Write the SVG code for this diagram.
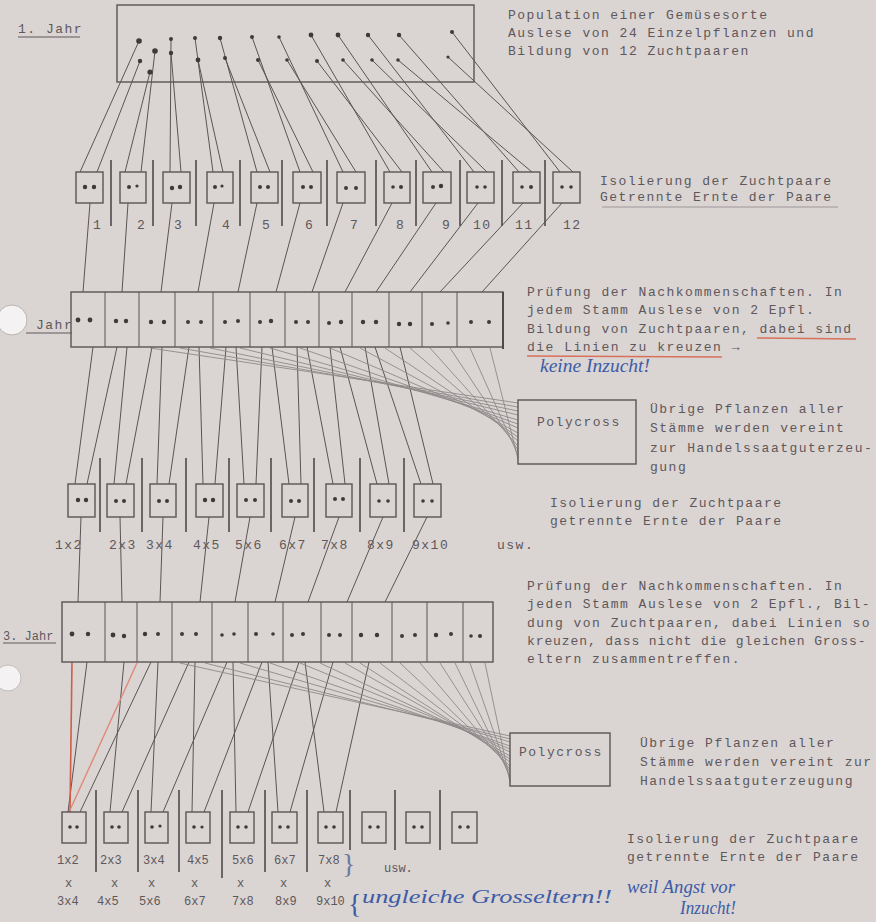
<svg xmlns="http://www.w3.org/2000/svg" width="876" height="922" viewBox="0 0 876 922">
<style>
.t{font-family:"Liberation Mono","DejaVu Sans Mono",monospace;font-size:13px;fill:#5e585a;letter-spacing:1.5px}
.s{font-family:"Liberation Mono","DejaVu Sans Mono",monospace;font-size:12px;fill:#5e585a}
.hw{font-family:"Liberation Serif","DejaVu Serif",serif;font-style:italic;font-size:18px;fill:#3d5ca6}
.bx{fill:none;stroke:#5a5456;stroke-width:1.4}
.ln{stroke:#5a5456;stroke-width:1;fill:none}
.fl{stroke:#8f898a;stroke-width:0.9;fill:none}
.bar{stroke:#4e494b;stroke-width:1.6}
.d{fill:#3e3a3b}
.ul{stroke:#5e585a;stroke-width:1.2}
</style>
<rect width="876" height="922" fill="#dad4d3"/>

<!-- punch holes -->
<g id="holes">
<ellipse cx="12" cy="320" rx="15" ry="15" fill="#f4f2f2" stroke="#b9b3b3" stroke-width="1"/>
<ellipse cx="8" cy="678" rx="13" ry="13" fill="#f4f2f2" stroke="#c3bdbd" stroke-width="1"/>
</g>

<!-- labels years -->
<g id="label-jahr1"><text class="t" x="18" y="33">1. Jahr</text><line class="ul" x1="18" y1="37" x2="80" y2="37"/></g>
<g id="label-jahr2"><text class="t" x="36" y="329">Jahr</text><line class="ul" x1="26" y1="333" x2="72" y2="333"/></g>
<g id="label-jahr3"><text class="s" x="3" y="640">3. Jahr</text><line class="ul" x1="3" y1="643" x2="56" y2="643"/></g>

<!-- connectors -->
<g id="connectors">
<!-- population dots -> pair boxes -->
<g class="ln">
<line x1="139" y1="41" x2="80" y2="172"/><line x1="140" y1="61" x2="97" y2="172"/>
<line x1="150" y1="72" x2="125" y2="172"/><line x1="155" y1="51" x2="141" y2="172"/>
<line x1="171" y1="39" x2="170" y2="172"/><line x1="171" y1="53" x2="181" y2="172"/>
<line x1="195" y1="38" x2="213" y2="172"/><line x1="198" y1="60" x2="223" y2="172"/>
<line x1="220" y1="38" x2="257" y2="172"/><line x1="225" y1="58" x2="270" y2="172"/>
<line x1="252" y1="37" x2="300" y2="172"/><line x1="258" y1="60" x2="313" y2="172"/>
<line x1="279" y1="37" x2="343" y2="172"/><line x1="287" y1="60" x2="356" y2="172"/>
<line x1="311" y1="35" x2="390" y2="172"/><line x1="317" y1="61" x2="402" y2="172"/>
<line x1="338" y1="35" x2="432" y2="172"/><line x1="343" y1="60" x2="444" y2="172"/>
<line x1="368" y1="35" x2="474" y2="172"/><line x1="372" y1="60" x2="487" y2="172"/>
<line x1="399" y1="35" x2="519" y2="172"/><line x1="398" y1="60" x2="532" y2="172"/>
<line x1="452" y1="32" x2="560" y2="172"/><line x1="448" y1="57" x2="573" y2="172"/>
</g>
<!-- pair boxes -> 2. Jahr row -->
<g class="ln">
<line x1="90" y1="203" x2="83" y2="292"/><line x1="128" y1="203" x2="122" y2="292"/>
<line x1="172" y1="203" x2="161" y2="292"/><line x1="214" y1="203" x2="198" y2="292"/>
<line x1="257" y1="203" x2="238" y2="292"/><line x1="300" y1="203" x2="276" y2="292"/>
<line x1="343" y1="203" x2="312" y2="292"/><line x1="392" y1="203" x2="345" y2="292"/>
<line x1="436" y1="203" x2="376" y2="292"/><line x1="478" y1="203" x2="410" y2="292"/>
<line x1="523" y1="203" x2="440" y2="292"/><line x1="562" y1="203" x2="482" y2="292"/>
</g>
<!-- 2. Jahr -> crossing pairs -->
<g class="ln">
<line x1="93" y1="347" x2="75" y2="484"/><line x1="117" y1="347" x2="87" y2="484"/>
<line x1="127" y1="347" x2="114" y2="484"/><line x1="152" y1="347" x2="126" y2="484"/>
<line x1="162" y1="347" x2="157" y2="484"/><line x1="189" y1="347" x2="169" y2="484"/>
<line x1="199" y1="347" x2="203" y2="484"/><line x1="226" y1="347" x2="215" y2="484"/>
<line x1="236" y1="347" x2="244" y2="484"/><line x1="262" y1="347" x2="256" y2="484"/>
<line x1="272" y1="347" x2="289" y2="484"/><line x1="297" y1="347" x2="301" y2="484"/>
<line x1="307" y1="347" x2="333" y2="484"/><line x1="330" y1="347" x2="345" y2="484"/>
<line x1="340" y1="347" x2="377" y2="484"/><line x1="365" y1="347" x2="389" y2="484"/>
<line x1="375" y1="347" x2="421" y2="484"/><line x1="400" y1="347" x2="433" y2="484"/>
</g>
<!-- 2. Jahr -> Polycross -->
<g class="fl">
<line x1="150" y1="348" x2="518" y2="403"/><line x1="180" y1="348" x2="518" y2="407"/>
<line x1="210" y1="348" x2="518" y2="411"/><line x1="240" y1="348" x2="518" y2="415"/>
<line x1="270" y1="348" x2="518" y2="420"/><line x1="300" y1="348" x2="518" y2="424"/>
<line x1="330" y1="348" x2="518" y2="428"/><line x1="360" y1="348" x2="518" y2="433"/>
<line x1="385" y1="348" x2="518" y2="437"/><line x1="410" y1="348" x2="518" y2="441"/>
<line x1="430" y1="348" x2="518" y2="446"/><line x1="450" y1="348" x2="518" y2="450"/>
<line x1="470" y1="348" x2="518" y2="455"/><line x1="490" y1="348" x2="518" y2="459"/>
</g>
<!-- pairs -> 3. Jahr row -->
<g class="ln">
<line x1="81" y1="517" x2="78" y2="602"/><line x1="120" y1="517" x2="122" y2="602"/>
<line x1="163" y1="517" x2="160" y2="602"/><line x1="209" y1="517" x2="200" y2="602"/>
<line x1="250" y1="517" x2="235" y2="602"/><line x1="295" y1="517" x2="275" y2="602"/>
<line x1="339" y1="517" x2="308" y2="602"/><line x1="383" y1="517" x2="347" y2="602"/>
<line x1="427" y1="517" x2="385" y2="602"/>
</g>
<!-- 3. Jahr -> crossing pairs -->
<g class="ln">
<line x1="87" y1="662" x2="68" y2="812"/><line x1="151" y1="662" x2="80" y2="812"/>
<line x1="124" y1="662" x2="110" y2="812"/><line x1="189" y1="662" x2="122" y2="812"/>
<line x1="158" y1="662" x2="151" y2="812"/><line x1="227" y1="662" x2="163" y2="812"/>
<line x1="195" y1="662" x2="192" y2="812"/><line x1="262" y1="662" x2="204" y2="812"/>
<line x1="233" y1="662" x2="236" y2="812"/><line x1="299" y1="662" x2="248" y2="812"/>
<line x1="268" y1="662" x2="278" y2="812"/><line x1="333" y1="662" x2="290" y2="812"/>
<line x1="305" y1="662" x2="324" y2="812"/><line x1="369" y1="662" x2="336" y2="812"/>
</g>
<!-- 3. Jahr -> Polycross -->
<g class="fl">
<line x1="180" y1="663" x2="510" y2="736"/><line x1="205" y1="663" x2="510" y2="739"/>
<line x1="240" y1="663" x2="510" y2="742"/><line x1="270" y1="663" x2="510" y2="746"/>
<line x1="300" y1="663" x2="510" y2="749"/><line x1="320" y1="663" x2="510" y2="752"/>
<line x1="345" y1="663" x2="510" y2="756"/><line x1="360" y1="663" x2="510" y2="759"/>
<line x1="380" y1="663" x2="510" y2="762"/><line x1="400" y1="663" x2="510" y2="766"/>
<line x1="420" y1="663" x2="510" y2="769"/><line x1="440" y1="663" x2="510" y2="772"/>
<line x1="455" y1="663" x2="510" y2="776"/><line x1="470" y1="663" x2="510" y2="779"/>
<line x1="485" y1="663" x2="510" y2="782"/>
</g>
<!-- red marks -->
<line x1="72" y1="662" x2="70" y2="812" stroke="#cf5d48" stroke-width="1.6"/>
<line x1="70" y1="810" x2="137" y2="663" stroke="#e08a78" stroke-width="1.4"/>
<!-- separator bars -->
<g class="bar">
<line x1="111" y1="160" x2="111" y2="226"/><line x1="153" y1="160" x2="153" y2="226"/>
<line x1="196" y1="160" x2="196" y2="226"/><line x1="240" y1="160" x2="240" y2="226"/>
<line x1="282" y1="160" x2="282" y2="226"/><line x1="327" y1="160" x2="327" y2="226"/>
<line x1="376" y1="160" x2="376" y2="226"/><line x1="416" y1="160" x2="416" y2="226"/>
<line x1="460" y1="160" x2="460" y2="226"/><line x1="502" y1="160" x2="502" y2="226"/>
<line x1="545" y1="160" x2="545" y2="226"/>
<line x1="100" y1="458" x2="100" y2="532"/><line x1="142" y1="458" x2="142" y2="532"/>
<line x1="186" y1="458" x2="186" y2="532"/><line x1="229" y1="458" x2="229" y2="532"/>
<line x1="271" y1="458" x2="271" y2="532"/><line x1="314" y1="458" x2="314" y2="532"/>
<line x1="360" y1="458" x2="360" y2="532"/><line x1="404" y1="458" x2="404" y2="532"/>
<line x1="96" y1="790" x2="96" y2="872"/><line x1="138" y1="790" x2="138" y2="872"/>
<line x1="179" y1="790" x2="179" y2="872"/><line x1="222" y1="790" x2="222" y2="878"/>
<line x1="265" y1="790" x2="265" y2="872"/><line x1="307" y1="790" x2="307" y2="872"/>
<line x1="350" y1="790" x2="350" y2="850"/><line x1="395" y1="790" x2="395" y2="850"/>
<line x1="440" y1="790" x2="440" y2="850"/>
</g>
</g>

<!-- population box -->
<g id="population">
<rect class="bx" x="117" y="5" width="357" height="77"/>
<g class="d">
<circle cx="139" cy="41" r="2.8"/><circle cx="155" cy="51" r="2.8"/><circle cx="171" cy="39" r="2"/><circle cx="171" cy="53" r="2.2"/>
<circle cx="195" cy="38" r="2"/><circle cx="220" cy="38" r="2.2"/><circle cx="252" cy="37" r="2"/><circle cx="279" cy="37" r="1.8"/>
<circle cx="311" cy="35" r="2.4"/><circle cx="338" cy="35" r="2.4"/><circle cx="368" cy="35" r="2.2"/><circle cx="399" cy="35" r="2.2"/><circle cx="452" cy="32" r="2"/>
<circle cx="140" cy="61" r="2.2"/><circle cx="150" cy="72" r="2.6"/><circle cx="198" cy="60" r="2.4"/><circle cx="225" cy="58" r="2"/>
<circle cx="258" cy="60" r="2"/><circle cx="287" cy="60" r="1.8"/><circle cx="317" cy="61" r="2"/><circle cx="343" cy="60" r="1.8"/>
<circle cx="372" cy="60" r="1.8"/><circle cx="398" cy="60" r="1.8"/><circle cx="448" cy="57" r="1.6"/>
</g>
</g>
<g id="text-population">
<text class="t" x="508" y="19">Population einer Gemüsesorte</text>
<text class="t" x="508" y="37">Auslese von 24 Einzelpflanzen und</text>
<text class="t" x="508" y="55">Bildung von 12 Zuchtpaaren</text>
</g>

<!-- 1st year pair boxes -->
<g id="pairs-1">
<g id="p1-1"><rect class="bx" x="76" y="172" width="27" height="31"/><circle class="d" cx="85" cy="187" r="2.2"/><circle class="d" cx="94" cy="187" r="2.2"/><text class="t" x="93" y="229">1</text></g>
<g id="p1-2"><rect class="bx" x="120" y="172" width="26" height="31"/><circle class="d" cx="129" cy="187" r="2"/><circle class="d" cx="137" cy="186" r="1.6"/><text class="t" x="137" y="229">2</text></g>
<g id="p1-3"><rect class="bx" x="163" y="172" width="27" height="31"/><circle class="d" cx="172" cy="188" r="2.2"/><circle class="d" cx="180" cy="187" r="2.2"/><text class="t" x="174" y="229">3</text></g>
<g id="p1-4"><rect class="bx" x="207" y="172" width="26" height="31"/><circle class="d" cx="215" cy="187" r="2"/><circle class="d" cx="222" cy="186" r="1.6"/><text class="t" x="222" y="229">4</text></g>
<g id="p1-5"><rect class="bx" x="251" y="172" width="27" height="31"/><circle class="d" cx="260" cy="187" r="2"/><circle class="d" cx="268" cy="187" r="2"/><text class="t" x="262" y="229">5</text></g>
<g id="p1-6"><rect class="bx" x="293" y="172" width="28" height="31"/><circle class="d" cx="303" cy="187" r="2"/><circle class="d" cx="311" cy="187" r="2"/><text class="t" x="305" y="229">6</text></g>
<g id="p1-7"><rect class="bx" x="337" y="172" width="28" height="31"/><circle class="d" cx="346" cy="188" r="2"/><circle class="d" cx="356" cy="188" r="2"/><text class="t" x="350" y="229">7</text></g>
<g id="p1-8"><rect class="bx" x="384" y="172" width="26" height="31"/><circle class="d" cx="393" cy="187" r="1.8"/><circle class="d" cx="401" cy="187" r="2"/><text class="t" x="396" y="229">8</text></g>
<g id="p1-9"><rect class="bx" x="423" y="172" width="28" height="31"/><circle class="d" cx="433" cy="187" r="2"/><circle class="d" cx="441" cy="186" r="2.2"/><text class="t" x="442" y="229">9</text></g>
<g id="p1-10"><rect class="bx" x="467" y="172" width="27" height="31"/><circle class="d" cx="477" cy="187" r="1.8"/><circle class="d" cx="485" cy="187" r="1.8"/><text class="t" x="473" y="229">10</text></g>
<g id="p1-11"><rect class="bx" x="513" y="172" width="27" height="31"/><circle class="d" cx="522" cy="187" r="1.8"/><circle class="d" cx="531" cy="187" r="2"/><text class="t" x="515" y="229">11</text></g>
<g id="p1-12"><rect class="bx" x="553" y="172" width="27" height="31"/><circle class="d" cx="562" cy="187" r="1.8"/><circle class="d" cx="571" cy="187" r="1.8"/><text class="t" x="563" y="229">12</text></g>
</g>
<g id="text-iso1">
<text class="t" x="600" y="185">Isolierung der Zuchtpaare</text>
<text class="t" x="600" y="201">Getrennte Ernte der Paare</text>
<line x1="602" y1="207" x2="838" y2="207" stroke="#8f898a" stroke-width="0.8"/>
</g>

<!-- 2. Jahr row -->
<g id="row-jahr2">
<rect class="bx" x="71" y="292" width="432" height="55"/>
<line x1="503" y1="292" x2="503" y2="349" stroke="#4e494b" stroke-width="2"/>
<g class="ln">
<line x1="105" y1="292" x2="105" y2="347"/><line x1="139" y1="292" x2="139" y2="347"/><line x1="175" y1="292" x2="175" y2="347"/>
<line x1="213" y1="292" x2="213" y2="347"/><line x1="250" y1="292" x2="250" y2="347"/><line x1="285" y1="292" x2="285" y2="347"/>
<line x1="319" y1="292" x2="319" y2="347"/><line x1="352" y1="292" x2="352" y2="347"/><line x1="389" y1="292" x2="389" y2="347"/>
<line x1="422" y1="292" x2="422" y2="347"/><line x1="457" y1="292" x2="457" y2="347"/>
</g>
<g class="d">
<circle cx="78" cy="320" r="2.4"/><circle cx="90" cy="320" r="2.4"/><circle cx="116" cy="321" r="2.2"/><circle cx="126" cy="321" r="2.2"/>
<circle cx="151" cy="322" r="2.2"/><circle cx="164" cy="322" r="2.2"/><circle cx="188" cy="322" r="2"/><circle cx="201" cy="322" r="2"/>
<circle cx="225" cy="322" r="2"/><circle cx="238" cy="321" r="2"/><circle cx="260" cy="322" r="2"/><circle cx="271" cy="321" r="2.2"/>
<circle cx="296" cy="322" r="2"/><circle cx="308" cy="322" r="2"/><circle cx="329" cy="323" r="2"/><circle cx="341" cy="322" r="2.2"/>
<circle cx="363" cy="322" r="2.2"/><circle cx="376" cy="322" r="2.2"/><circle cx="399" cy="324" r="2.2"/><circle cx="410" cy="324" r="2.2"/>
<circle cx="432" cy="324" r="2"/><circle cx="448" cy="323" r="1.8"/><circle cx="471" cy="322" r="2"/><circle cx="489" cy="322" r="2"/>
</g>
</g>
<g id="text-pruefung1">
<text class="t" x="527" y="296">Prüfung der Nachkommenschaften. In</text>
<text class="t" x="527" y="314">jedem Stamm Auslese von 2 Epfl.</text>
<text class="t" x="527" y="333">Bildung von Zuchtpaaren, dabei sind</text>
<text class="t" x="527" y="351">die Linien zu kreuzen →</text>
<line x1="757" y1="338" x2="856" y2="339" stroke="#d8705c" stroke-width="1.4"/>
<line x1="527" y1="356" x2="722" y2="357" stroke="#d8705c" stroke-width="1.4"/>
<text class="hw" x="540" y="372" font-size="15" textLength="110" lengthAdjust="spacingAndGlyphs">keine Inzucht!</text>
</g>

<!-- Polycross 1 -->
<g id="polycross-1">
<rect class="bx" x="518" y="400" width="118" height="64"/>
<text class="t" x="537" y="426">Polycross</text>
</g>
<g id="text-poly1">
<text class="t" x="650" y="413">Übrige Pflanzen aller</text>
<text class="t" x="650" y="432">Stämme werden vereint</text>
<text class="t" x="650" y="452">zur Handelssaatguterzeu-</text>
<text class="t" x="650" y="471">gung</text>
</g>

<!-- 2nd year crossing pairs -->
<g id="pairs-2">
<g id="p2-1"><rect class="bx" x="68" y="484" width="27" height="33"/><circle class="d" cx="78" cy="500" r="2.2"/><circle class="d" cx="86" cy="500" r="2.2"/><text class="t" x="55" y="549">1x2</text></g>
<g id="p2-2"><rect class="bx" x="107" y="484" width="27" height="33"/><circle class="d" cx="116" cy="501" r="2"/><circle class="d" cx="124" cy="501" r="2"/><text class="t" x="109" y="549">2x3</text></g>
<g id="p2-3"><rect class="bx" x="150" y="484" width="26" height="33"/><circle class="d" cx="159" cy="501" r="2"/><circle class="d" cx="167" cy="501" r="2"/><text class="t" x="146" y="549">3x4</text></g>
<g id="p2-4"><rect class="bx" x="196" y="484" width="27" height="33"/><circle class="d" cx="205" cy="500" r="2.2"/><circle class="d" cx="213" cy="500" r="2.2"/><text class="t" x="193" y="549">4x5</text></g>
<g id="p2-5"><rect class="bx" x="237" y="484" width="27" height="33"/><circle class="d" cx="246" cy="500" r="2"/><circle class="d" cx="255" cy="500" r="2"/><text class="t" x="235" y="549">5x6</text></g>
<g id="p2-6"><rect class="bx" x="282" y="484" width="26" height="33"/><circle class="d" cx="291" cy="501" r="2"/><circle class="d" cx="299" cy="501" r="2"/><text class="t" x="279" y="549">6x7</text></g>
<g id="p2-7"><rect class="bx" x="326" y="484" width="26" height="33"/><circle class="d" cx="335" cy="499" r="2"/><circle class="d" cx="343" cy="499" r="2"/><text class="t" x="321" y="549">7x8</text></g>
<g id="p2-8"><rect class="bx" x="370" y="484" width="26" height="33"/><circle class="d" cx="379" cy="501" r="1.8"/><circle class="d" cx="388" cy="501" r="1.8"/><text class="t" x="367" y="549">8x9</text></g>
<g id="p2-9"><rect class="bx" x="414" y="484" width="27" height="33"/><circle class="d" cx="423" cy="501" r="1.8"/><circle class="d" cx="432" cy="501" r="1.8"/><text class="t" x="412" y="549">9x10</text></g>
<text class="t" x="497" y="549">usw.</text>
</g>
<g id="text-iso2">
<text class="t" x="550" y="507">Isolierung der Zuchtpaare</text>
<text class="t" x="550" y="525">getrennte Ernte der Paare</text>
</g>

<!-- 3. Jahr row -->
<g id="row-jahr3">
<rect class="bx" x="62" y="602" width="431" height="60"/>
<g class="ln">
<line x1="105" y1="602" x2="105" y2="662"/><line x1="137" y1="602" x2="137" y2="662"/><line x1="172" y1="602" x2="172" y2="662"/>
<line x1="212" y1="602" x2="212" y2="662"/><line x1="248" y1="602" x2="248" y2="662"/><line x1="283" y1="602" x2="283" y2="662"/>
<line x1="321" y1="602" x2="321" y2="662"/><line x1="352" y1="602" x2="352" y2="662"/><line x1="392" y1="602" x2="392" y2="662"/>
<line x1="427" y1="602" x2="427" y2="662"/><line x1="463" y1="602" x2="463" y2="662"/>
</g>
<g class="d">
<circle cx="72" cy="634" r="2.4"/><circle cx="88" cy="634" r="2.2"/><circle cx="113" cy="635" r="2.4"/><circle cx="124" cy="636" r="2.2"/>
<circle cx="145" cy="634" r="2.2"/><circle cx="158" cy="634" r="2"/><circle cx="182" cy="634" r="2"/><circle cx="196" cy="634" r="2"/>
<circle cx="222" cy="635" r="1.8"/><circle cx="234" cy="634" r="1.8"/><circle cx="256" cy="634" r="2"/><circle cx="273" cy="634" r="1.8"/>
<circle cx="292" cy="635" r="2"/><circle cx="303" cy="634" r="2"/><circle cx="329" cy="635" r="2"/><circle cx="340" cy="635" r="2"/>
<circle cx="361" cy="635" r="2.2"/><circle cx="377" cy="635" r="2.2"/><circle cx="402" cy="636" r="2"/><circle cx="415" cy="635" r="2"/>
<circle cx="436" cy="635" r="2.2"/><circle cx="451" cy="634" r="2"/><circle cx="471" cy="636" r="1.8"/><circle cx="480" cy="636" r="2"/>
</g>
</g>
<g id="text-pruefung2">
<text class="t" x="527" y="590">Prüfung der Nachkommenschaften. In</text>
<text class="t" x="527" y="608">jeden Stamm Auslese von 2 Epfl., Bil-</text>
<text class="t" x="527" y="627">dung von Zuchtpaaren, dabei Linien so</text>
<text class="t" x="527" y="645" style="letter-spacing:0.9px">kreuzen, dass nicht die gleichen Gross-</text>
<text class="t" x="527" y="663">eltern zusammentreffen.</text>
</g>

<!-- Polycross 2 -->
<g id="polycross-2">
<rect class="bx" x="510" y="733" width="100" height="53"/>
<text class="t" x="519" y="756">Polycross</text>
</g>
<g id="text-poly2">
<text class="t" x="640" y="747">Übrige Pflanzen aller</text>
<text class="t" x="640" y="766">Stämme werden vereint zur</text>
<text class="t" x="640" y="785">Handelssaatguterzeugung</text>
</g>

<!-- 3rd year crossing pairs -->
<g id="pairs-3">
<g id="p3-1"><rect class="bx" x="62" y="812" width="24" height="31"/><circle class="d" cx="70" cy="827" r="1.8"/><circle class="d" cx="77" cy="827" r="1.8"/><text class="s" x="57" y="864">1x2</text><text class="s" x="65" y="887">x</text><text class="s" x="57" y="905">3x4</text></g>
<g id="p3-2"><rect class="bx" x="104" y="812" width="24" height="31"/><circle class="d" cx="112" cy="827" r="1.8"/><circle class="d" cx="119" cy="827" r="1.8"/><text class="s" x="100" y="864">2x3</text><text class="s" x="111" y="887">x</text><text class="s" x="97" y="905">4x5</text></g>
<g id="p3-3"><rect class="bx" x="145" y="812" width="23" height="31"/><circle class="d" cx="152" cy="827" r="1.8"/><circle class="d" cx="160" cy="826" r="1.6"/><text class="s" x="143" y="864">3x4</text><text class="s" x="148" y="887">x</text><text class="s" x="139" y="905">5x6</text></g>
<g id="p3-4"><rect class="bx" x="186" y="812" width="24" height="31"/><circle class="d" cx="194" cy="827" r="1.8"/><circle class="d" cx="202" cy="827" r="1.6"/><text class="s" x="187" y="864">4x5</text><text class="s" x="191" y="887">x</text><text class="s" x="184" y="905">6x7</text></g>
<g id="p3-5"><rect class="bx" x="230" y="812" width="24" height="31"/><circle class="d" cx="238" cy="827" r="1.8"/><circle class="d" cx="246" cy="827" r="1.8"/><text class="s" x="232" y="864">5x6</text><text class="s" x="237" y="887">x</text><text class="s" x="232" y="905">7x8</text></g>
<g id="p3-6"><rect class="bx" x="272" y="812" width="25" height="31"/><circle class="d" cx="280" cy="827" r="1.8"/><circle class="d" cx="288" cy="827" r="1.8"/><text class="s" x="274" y="864">6x7</text><text class="s" x="280" y="887">x</text><text class="s" x="275" y="905">8x9</text></g>
<g id="p3-7"><rect class="bx" x="318" y="812" width="25" height="31"/><circle class="d" cx="326" cy="827" r="1.8"/><circle class="d" cx="334" cy="827" r="1.8"/><text class="s" x="318" y="864">7x8</text><text class="s" x="324" y="887">x</text><text class="s" x="316" y="905">9x10</text></g>
<g id="p3-8"><rect class="bx" x="362" y="812" width="24" height="31"/><circle class="d" cx="370" cy="827" r="1.8"/><circle class="d" cx="378" cy="827" r="1.8"/></g>
<g id="p3-9"><rect class="bx" x="406" y="812" width="24" height="31"/><circle class="d" cx="414" cy="827" r="1.8"/><circle class="d" cx="422" cy="827" r="1.8"/></g>
<g id="p3-10"><rect class="bx" x="452" y="812" width="25" height="31"/><circle class="d" cx="460" cy="827" r="1.8"/><circle class="d" cx="468" cy="827" r="1.8"/></g>
<text class="s" x="384" y="872">usw.</text>
</g>
<g id="text-iso3">
<text class="t" x="627" y="843">Isolierung der Zuchtpaare</text>
<text class="t" x="627" y="861">getrennte Ernte der Paare</text>
</g>

<!-- handwritten notes -->
<g id="notes">
<text x="342" y="873" font-family="Liberation Serif, serif" font-size="28" fill="#6f7aa0">}</text>
<text x="348" y="913" font-family="Liberation Serif, serif" font-size="28" fill="#3d5ca6">{</text>
<text class="hw" x="362" y="903" textLength="250" lengthAdjust="spacingAndGlyphs">ungleiche Grosseltern!!</text>
<text class="hw" x="627" y="893" textLength="108" lengthAdjust="spacingAndGlyphs">weil Angst vor</text>
<text class="hw" x="680" y="914" textLength="56" lengthAdjust="spacingAndGlyphs">Inzucht!</text>
</g>
</svg>
